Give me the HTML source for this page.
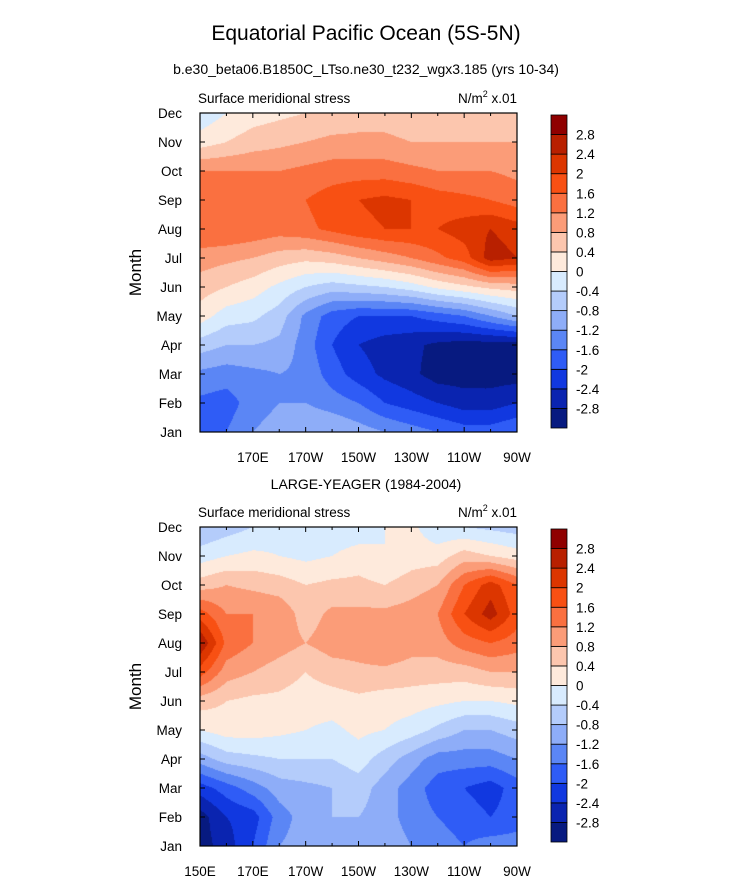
<!DOCTYPE html>
<html><head><meta charset="utf-8"><style>
body{margin:0;background:#fff;}
#wrap{position:relative;width:732px;height:882px;font-family:"Liberation Sans",sans-serif;color:#000;}
.t{position:absolute;white-space:nowrap;}
canvas{position:absolute;}
</style></head><body>
<div id="wrap">
<div class="t" style="left:0;width:732px;text-align:center;top:22px;font-size:21px;">Equatorial Pacific Ocean (5S-5N)</div>
<div class="t" style="left:0;width:732px;text-align:center;top:61px;font-size:14px;">b.e30_beta06.B1850C_LTso.ne30_t232_wgx3.185 (yrs 10-34)</div>
<div class="t" style="left:0;width:732px;text-align:center;top:476px;font-size:14px;">LARGE-YEAGER (1984-2004)</div>
<svg id="svg" width="732" height="882" style="position:absolute;left:0;top:0"></svg>
</div>
<script>
const months=["Jan","Feb","Mar","Apr","May","Jun","Jul","Aug","Sep","Oct","Nov","Dec"];
const lons=[150,160,170,180,190,200,210,220,230,240,250,260,270];
const xTickLabels=["150E","170E","170W","150W","130W","110W","90W"];
const xTickLons=[150,170,190,210,230,250,270];
const levelLabels=["2.8","2.4","2","1.6","1.2","0.8","0.4","0","-0.4","-0.8","-1.2","-1.6","-2","-2.4","-2.8"];
const levelColors=["#071a80","#0a24b0","#1138e0","#2f5cf6","#5b86f5","#8eadf8","#b4ccfb","#d8ebfe","#feeadc","#fcc6ae","#fb9c78","#fa7040","#f85013","#dc3600","#b82000","#8f0000"];
const modelVals=[
[-1.8,-1.6,-1.2,-1.0,-0.8,-0.8,-1.0,-1.2,-1.4,-1.6,-1.8,-1.8,-1.6],
[-1.7,-1.8,-1.4,-1.2,-1.2,-1.4,-1.6,-2.0,-2.2,-2.4,-2.6,-2.6,-2.4],
[-1.3,-1.4,-1.3,-1.2,-1.3,-1.8,-2.2,-2.5,-2.7,-3.0,-3.0,-3.0,-3.0],
[-0.6,-0.8,-0.8,-0.9,-1.4,-2.0,-2.4,-2.6,-2.7,-2.9,-3.0,-3.0,-3.0],
[0.2,-0.2,-0.3,-0.6,-1.3,-1.8,-2.0,-2.0,-2.0,-1.8,-1.6,-1.2,-0.8],
[0.6,0.4,0.2,-0.1,-0.4,-0.6,-0.5,-0.4,-0.2,0.1,0.3,0.5,0.6],
[1.0,0.9,0.8,0.6,0.5,0.6,0.8,1.0,1.2,1.5,1.8,2.6,2.4],
[1.6,1.6,1.5,1.4,1.5,1.7,1.9,2.0,2.0,2.0,2.2,2.4,2.2],
[1.5,1.4,1.4,1.5,1.6,1.8,2.0,2.1,2.0,1.8,1.7,1.6,1.4],
[1.2,1.2,1.2,1.2,1.3,1.4,1.4,1.4,1.3,1.2,1.2,1.2,1.1],
[0.2,0.4,0.6,0.7,0.8,0.9,0.9,0.9,0.8,0.8,0.8,0.8,0.8],
[-0.3,0.0,0.2,0.3,0.4,0.5,0.6,0.6,0.5,0.5,0.5,0.5,0.5]];
const obsVals=[
[-3.0,-2.6,-2.0,-1.2,-1.0,-0.8,-0.8,-0.9,-1.2,-1.4,-1.6,-1.4,-1.4],
[-3.0,-2.4,-2.2,-1.4,-1.0,-0.8,-0.8,-1.0,-1.4,-1.6,-1.8,-2.0,-1.8],
[-2.2,-1.8,-1.4,-1.0,-0.9,-0.8,-0.6,-1.0,-1.4,-1.8,-2.0,-2.2,-1.8],
[-1.0,-0.6,-0.5,-0.4,-0.4,-0.4,-0.2,-0.6,-1.0,-1.4,-1.4,-1.4,-1.2],
[0.0,0.2,0.2,0.1,0.0,-0.1,0.1,0.0,-0.2,-0.5,-0.8,-0.8,-0.6],
[0.6,0.4,0.3,0.3,0.2,0.2,0.3,0.2,0.2,0.1,0.0,0.0,0.1],
[1.8,1.0,0.8,0.6,0.4,0.6,0.7,0.7,0.6,0.6,0.6,0.8,0.8],
[2.8,1.5,1.2,1.0,0.8,1.0,1.0,1.2,1.0,1.0,1.4,1.6,1.4],
[1.8,1.2,1.2,1.1,0.6,0.9,0.9,0.9,1.0,1.2,2.0,2.6,1.8],
[0.6,0.8,0.7,0.6,0.4,0.5,0.5,0.4,0.6,0.8,1.6,2.2,1.6],
[-0.2,0.0,0.1,0.0,-0.1,0.0,0.2,0.0,0.2,0.2,0.6,0.4,0.2],
[-0.8,-0.6,-0.4,-0.2,-0.2,-0.3,-0.3,0.0,0.1,-0.3,-0.4,-0.5,-0.6]];

const NS="http://www.w3.org/2000/svg";
const svg=document.getElementById('svg');
const wrap=document.getElementById('wrap');
function mk(tag,attrs,parent){const e=document.createElementNS(NS,tag);for(const k in attrs)e.setAttribute(k,attrs[k]);(parent||svg).appendChild(e);return e;}
function colorFor(v){let i=Math.floor((v+2.8)/0.4)+1;if(i<0)i=0;if(i>15)i=15;return levelColors[i];}
function sample(vals,lon,m){
  let fx=(lon-lons[0])/10,fy=m;
  let i=Math.min(Math.floor(fx),lons.length-2),j=Math.min(Math.floor(fy),months.length-2);
  let tx=fx-i,ty=fy-j;
  return (vals[j][i]*(1-tx)+vals[j][i+1]*tx)*(1-ty)+(vals[j+1][i]*(1-tx)+vals[j+1][i+1]*tx)*ty;
}
function panel(name,vals,top,showFirstX){
  const L=200,R=517,T=top,B=top+319;
  const xs=lon=>L+(lon-150)/120*(R-L);
  const ys=m=>B-m/11*(B-T);
  const cv=document.createElement('canvas');
  cv.width=R-L;cv.height=B-T;cv.style.left=L+'px';cv.style.top=T+'px';
  
  
  wrap.insertBefore(cv,svg);
  const ctx=cv.getContext('2d');
  const step=1;
  for(let px=0;px<R-L;px+=step){for(let py=0;py<B-T;py+=step){
    const lon=150+(px+step/2)/(R-L)*120;
    const m=11-(py+step/2)/(B-T)*11;
    ctx.fillStyle=colorFor(sample(vals,lon,m));
    ctx.fillRect(px,py,step,step);
  }}
  const g=mk('g',{});
  
  
  mk('rect',{x:L,y:T,width:R-L,height:B-T,fill:'none',stroke:'#000','stroke-width':1.2},g);
  months.forEach((mo,k)=>{
    const y=ys(k);
    mk('line',{x1:L,x2:L+5,y1:y,y2:y,stroke:'#000'},g);
    mk('line',{x1:R,x2:R-5,y1:y,y2:y,stroke:'#000'},g);
    const t=mk('text',{x:182,y:y+5,'text-anchor':'end','font-size':13.5},g);t.textContent=mo;
    
    
  });
  xTickLons.forEach((lon,k)=>{
    const x=xs(lon);
    mk('line',{x1:x,x2:x,y1:B,y2:B-5,stroke:'#000'},g);
    mk('line',{x1:x,x2:x,y1:T,y2:T+5,stroke:'#000'},g);
    if(k===0&&!showFirstX)return;
    const t=mk('text',{x:x,y:B+30,'text-anchor':'middle','font-size':13.5},g);t.textContent=xTickLabels[k];
    
    
  });
  for(let lon=160;lon<270;lon+=20){const x=xs(lon);mk('line',{x1:x,x2:x,y1:B,y2:B-3,stroke:'#000'},g);mk('line',{x1:x,x2:x,y1:T,y2:T+3,stroke:'#000'},g);}
  const yt=mk('text',{x:0,y:0,'text-anchor':'middle','font-size':17,transform:`translate(141,${(T+B)/2}) rotate(-90)`},g);yt.textContent='Month';
  
  
  const lt=mk('text',{x:198,y:T-10,'font-size':13.5},g);lt.textContent='Surface meridional stress';
  
  
  const rt=mk('text',{x:R,y:T-10,'text-anchor':'end','font-size':13.5},g);
  rt.innerHTML='N/m<tspan dy="-6" font-size="9">2</tspan><tspan dy="6"> x.01</tspan>';
  
  
  const cb=mk('g',{});
  
  
  const cT=T+2,cB=B-4,cL=551,cW=16,h=(cB-cT)/16;
  for(let i=0;i<16;i++){
    const r=mk('rect',{x:cL,y:cB-(i+1)*h,width:cW,height:h,fill:levelColors[i],stroke:'#000','stroke-width':0.8},cb);
    
    
  }
  levelLabels.forEach((lb,k)=>{
    const t=mk('text',{x:576,y:cT+(k+1)*h+5,'font-size':13.5},cb);t.textContent=lb;
    
    
  });
}
panel('model-panel',modelVals,113,false);
panel('obs-panel',obsVals,527,true);
</script>
</body></html>
